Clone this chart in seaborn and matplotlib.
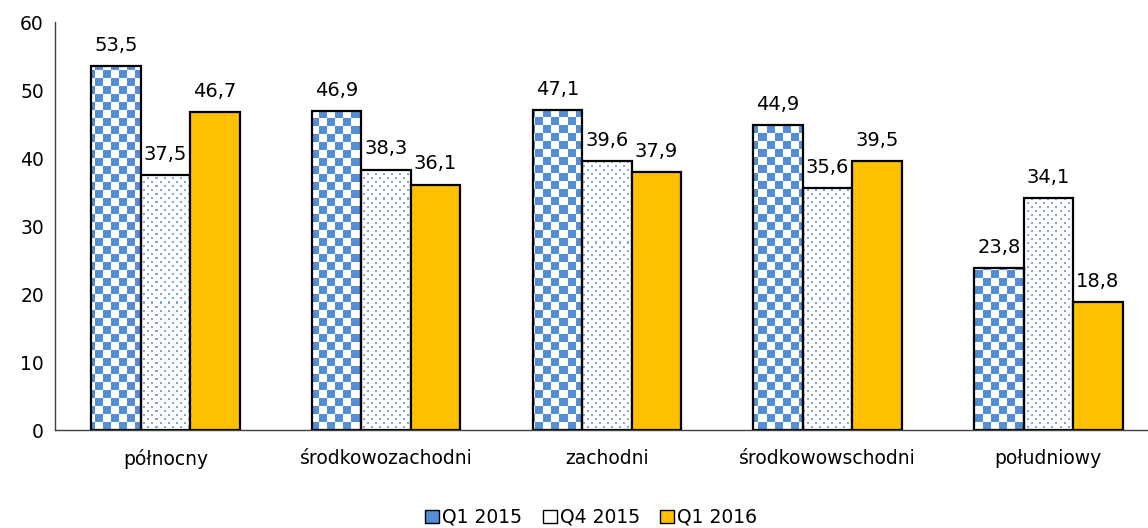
import numpy as np
import pandas as pd
import matplotlib
matplotlib.use('Agg')
import matplotlib.pyplot as plt
import matplotlib.patches as mpatches
import seaborn as sns

# Data
regions = ['północny', 'środkowozachodni', 'zachodni', 'środkowowschodni', 'południowy']
periods = ['Q1 2015', 'Q4 2015', 'Q1 2016']
q1_2015 = [53.5, 46.9, 47.1, 44.9, 23.8]
q4_2015 = [37.5, 38.3, 39.6, 35.6, 34.1]
q1_2016 = [46.7, 36.1, 37.9, 39.5, 18.8]

df = pd.DataFrame({
    'region': regions * 3,
    'okres': [p for p in periods for _ in regions],
    'value': q1_2015 + q4_2015 + q1_2016,
})

blue = '#558ED5'
dot_blue = '#7FA6E3'
orange = '#FFC000'

sns.set_style('white')
plt.rcParams['font.family'] = ['DejaVu Sans']
plt.rcParams['text.color'] = 'black'

fig = plt.figure(figsize=(11.48, 5.28), dpi=100)
ax = fig.add_axes([55 / 1148, 1 - 430 / 528, 1103.75 / 1148, 408 / 528])

sns.barplot(data=df, x='region', y='value', hue='okres', hue_order=periods,
            palette=['white', 'white', orange], width=0.672, saturation=1,
            legend=False, ax=ax, edgecolor='black', linewidth=1.6, zorder=2)

ax.set_xlim(-0.5, 4.5)
ax.set_ylim(0, 60)
ax.set_yticks(range(0, 61, 10))
ax.set_xlabel('')
ax.set_ylabel('')
ax.tick_params(axis='both', length=0, labelsize=13.5, colors='black')
ax.tick_params(axis='x', pad=14)
ax.tick_params(axis='y', pad=8)
for side in ['top', 'right']:
    ax.spines[side].set_visible(False)
for side in ['left', 'bottom']:
    ax.spines[side].set_color('#404040')
    ax.spines[side].set_linewidth(1.0)

# pixel patterns for the two textured series
H, W = 408, 1104
yy, xx = np.mgrid[0:H, 0:W]
checker = np.ones((H, W, 3))
mask = ((xx // 8) + (yy // 8)) % 2 == 0
checker[mask] = matplotlib.colors.to_rgb(blue)
dots = np.ones((H, W, 3))
dmask = (((xx % 8) < 2) & ((yy % 8) < 2)) | ((((xx + 4) % 8) < 2) & (((yy + 4) % 8) < 2))
dots[dmask] = matplotlib.colors.to_rgb(dot_blue)

for cont, pattern in zip(ax.containers[:2], [checker, dots]):
    for bar in cont:
        bar.set_facecolor('none')
        im = ax.imshow(pattern, extent=[0, 1, 0, 1], transform=ax.transAxes,
                       interpolation='nearest', aspect='auto', zorder=1)
        im.set_clip_path(bar)

ax.set_xlim(-0.5, 4.5)
ax.set_ylim(0, 60)

for cont in ax.containers:
    labels = [f'{b.get_height():.1f}'.replace('.', ',') for b in cont]
    ax.bar_label(cont, labels=labels, padding=8, fontsize=14, color='black')

handles = [
    mpatches.Patch(facecolor=blue, edgecolor='black', linewidth=1.0),
    mpatches.Patch(facecolor='white', edgecolor='black', linewidth=1.0),
    mpatches.Patch(facecolor=orange, edgecolor='black', linewidth=1.0),
]
fig.legend(handles, periods, loc='lower center', bbox_to_anchor=(0.515, -0.03),
           ncol=3, frameon=False, fontsize=13.5, handlelength=0.75, handleheight=0.75,
           handletextpad=0.15, columnspacing=1.1)

fig.savefig('out.png', dpi=100)
